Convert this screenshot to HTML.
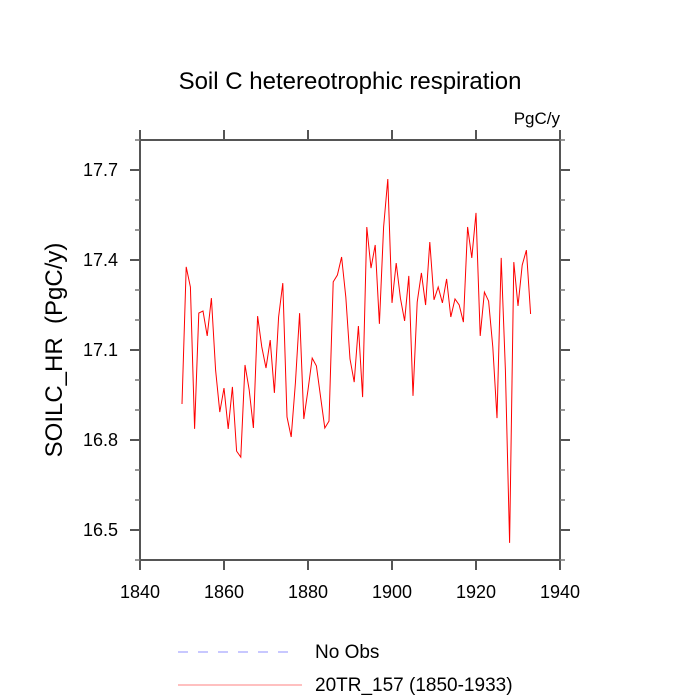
<!DOCTYPE html>
<html><head><meta charset="utf-8"><style>body{margin:0;background:#fff}svg{display:block;font-family:"Liberation Sans",sans-serif}</style></head>
<body>
<svg id="chart" width="700" height="700">
<text x="350" y="89" font-size="24" text-anchor="middle">Soil C hetereotrophic respiration</text>
<text x="560" y="124" font-size="17" text-anchor="end">PgC/y</text>
<text transform="translate(62,350) rotate(-90)" font-size="24" text-anchor="middle">SOILC_HR&#160;&#160;(PgC/y)</text>
<g id="axes"></g>
<g id="series"></g>
<g>
<line x1="178" y1="652" x2="296" y2="652" stroke="#9090ff" stroke-dasharray="10,10"/>
<text x="315" y="658" font-size="19">No Obs</text>
<line x1="178" y1="685" x2="302" y2="685" stroke="#ff8080"/>
<text x="315" y="691" font-size="19">20TR_157 (1850-1933)</text>
</g>
</svg>
<script>
const startYear = 1850;
const values = [16.92,17.377,17.31,16.837,17.223,17.23,17.147,17.273,17.033,16.893,
16.973,16.837,16.977,16.763,16.743,17.05,16.967,16.84,17.213,17.11,
17.04,17.133,16.957,17.21,17.323,16.877,16.81,16.99,17.223,16.87,
16.967,17.073,17.047,16.943,16.84,16.863,17.327,17.35,17.41,17.277,
17.07,16.993,17.18,16.943,17.51,17.373,17.45,17.187,17.51,17.67,
17.257,17.39,17.273,17.197,17.347,16.947,17.26,17.357,17.25,17.46,
17.267,17.31,17.257,17.337,17.21,17.27,17.25,17.193,17.51,17.407,
17.557,17.147,17.293,17.263,17.11,16.873,17.407,17.033,16.457,17.393,
17.247,17.383,17.433,17.22];
const xTicks = [1840,1860,1880,1900,1920,1940];
const yTicks = [16.5,16.8,17.1,17.4,17.7];
const yMinor = [16.4,16.6,16.7,16.9,17.0,17.2,17.3,17.5,17.6,17.8];
const X0=140,X1=560,Y0=560,Y1=140;
const xs=v=>X0+(v-1840)/100*(X1-X0);
const ys=v=>Y0-(v-16.4)/1.4*(Y0-Y1);
const NS="http://www.w3.org/2000/svg";
const ax=document.getElementById('axes');
function mk(t,a,p){const e=document.createElementNS(NS,t);for(const k in a)e.setAttribute(k,a[k]);p.appendChild(e);return e;}
const frame=mk('rect',{x:X0,y:Y1,width:X1-X0,height:Y0-Y1,fill:'none',stroke:'#555','stroke-width':2},ax);


xTicks.forEach(t=>{const x=xs(t);
 const a=mk('line',{x1:x,x2:x,y1:Y0,y2:Y0+10,stroke:'#555','stroke-width':2},ax);
 
 
 const b=mk('line',{x1:x,x2:x,y1:Y1,y2:Y1-10,stroke:'#555','stroke-width':2},ax);
 
 
 const l=mk('text',{x:x,y:Y0+38,'font-size':18,'text-anchor':'middle'},ax);l.textContent=t;
 
 
});
yTicks.forEach(t=>{const y=ys(t);
 const a=mk('line',{x1:X0-10,x2:X0,y1:y,y2:y,stroke:'#555','stroke-width':2},ax);
 
 
 const b=mk('line',{x1:X1,x2:X1+10,y1:y,y2:y,stroke:'#555','stroke-width':2},ax);
 
 
 const l=mk('text',{x:X0-22,y:y+6,'font-size':18,'text-anchor':'end'},ax);l.textContent=t.toFixed(1);
 
 
});
yMinor.forEach(t=>{const y=ys(t);
 const a=mk('line',{x1:X0-5,x2:X0,y1:y,y2:y,stroke:'#777','stroke-width':1.5},ax);
 
 
 const b=mk('line',{x1:X1,x2:X1+5,y1:y,y2:y,stroke:'#777','stroke-width':1.5},ax);
 
 
});
const pts=values.map((v,i)=>xs(startYear+i).toFixed(1)+','+ys(v).toFixed(1)).join(' ');
const pl=mk('polyline',{points:pts,fill:'none',stroke:'#ff0000','stroke-width':1},document.getElementById('series'));


</script>
</body></html>
